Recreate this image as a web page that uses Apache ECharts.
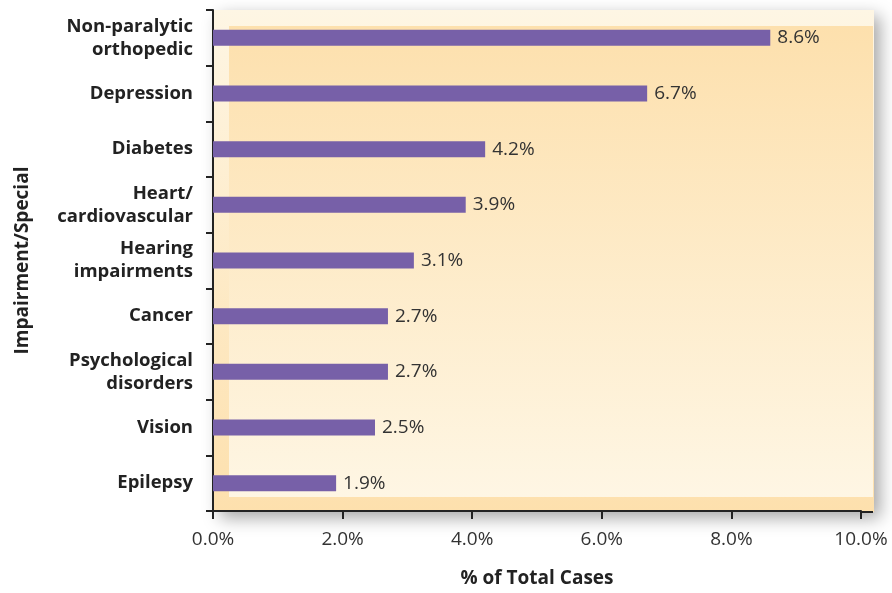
<!DOCTYPE html>
<html>
<head>
<meta charset="utf-8">
<script src="https://cdn.jsdelivr.net/npm/echarts@6/dist/echarts.min.js"></script>
<style>
  html, body { margin: 0; padding: 0; background: #fff; }
  #chart { width: 892px; height: 593px; }
</style>
</head>
<body>
<div id="chart"></div>
<script>
// categories top to bottom
const categories = [
  'Non-paralytic\northopedic',
  'Depression',
  'Diabetes',
  'Heart/\ncardiovascular',
  'Hearing\nimpairments',
  'Cancer',
  'Psychological\ndisorders',
  'Vision',
  'Epilepsy'
]
const values = [8.6, 6.7, 4.2, 3.9, 3.1, 2.7, 2.7, 2.5, 1.9]
const xTicks = [0, 2, 4, 6, 8, 10]

const FONT = 'Open Sans'
const G = { left: 213, top: 10, width: 648, height: 502 }
const CREAM = '#fef6e4'
const ORANGE = '#fde0ad'

const myChart = echarts.init(document.getElementById('chart'))

const option = {
  backgroundColor: '#fff',
  animation: false,
  textStyle: { fontFamily: FONT },
  grid: { left: G.left, top: G.top, width: G.width, height: G.height },
  graphic: [
    {
      type: 'rect',
      z: -10,
      silent: true,
      shape: { x: G.left + 1, y: G.top, width: G.width + 12, height: G.height },
      style: {
        fill: new echarts.graphic.LinearGradient(0, 0, 0, 1, [
          { offset: 0, color: CREAM },
          { offset: 1, color: ORANGE }
        ]),
        shadowBlur: 16,
        shadowOffsetX: 6,
        shadowOffsetY: 6,
        shadowColor: 'rgba(0,0,0,0.35)'
      }
    },
    {
      type: 'rect',
      z: -9,
      silent: true,
      shape: { x: G.left + 16, y: G.top + 16, width: G.width - 4, height: G.height - 31 },
      style: {
        fill: new echarts.graphic.LinearGradient(0, 0, 0, 1, [
          { offset: 0, color: ORANGE },
          { offset: 1, color: CREAM }
        ])
      }
    },
    {
      // the axis line runs on to the panel edge
      type: 'line',
      z: 5,
      silent: true,
      shape: { x1: G.left + G.width, y1: G.top + G.height, x2: G.left + G.width + 12, y2: G.top + G.height },
      style: { stroke: '#222', lineWidth: 2 }
    }
  ],
  xAxis: {
    type: 'value',
    min: xTicks[0],
    max: xTicks[xTicks.length - 1],
    interval: 2,
    name: '% of Total Cases',
    nameLocation: 'middle',
    nameGap: 58,
    nameTextStyle: { fontFamily: FONT, fontWeight: 'bold', fontSize: 19, color: '#222' },
    axisLine: { show: true, lineStyle: { color: '#222', width: 2 } },
    axisTick: { show: true, length: 8, lineStyle: { color: '#222', width: 2 } },
    axisLabel: {
      fontFamily: FONT,
      fontSize: 19,
      color: '#333',
      margin: 19,
      formatter: v => v.toFixed(1) + '%'
    },
    splitLine: { show: false }
  },
  yAxis: {
    type: 'category',
    data: categories,
    inverse: true,
    name: 'Impairment/Special',
    nameLocation: 'middle',
    nameGap: 181,
    nameRotate: 90,
    nameTextStyle: { fontFamily: FONT, fontWeight: 'bold', fontSize: 19, color: '#222' },
    axisLine: { show: true, lineStyle: { color: '#222', width: 2 } },
    axisTick: { show: true, length: 7, lineStyle: { color: '#222', width: 2 } },
    axisLabel: {
      fontFamily: FONT,
      fontWeight: 'bold',
      fontSize: 18.5,
      lineHeight: 23,
      color: '#222',
      margin: 20,
      align: 'right'
    }
  },
  series: [
    {
      type: 'bar',
      data: values,
      barWidth: 16,
      itemStyle: { color: '#7760a8' },
      label: {
        show: true,
        position: 'right',
        distance: 7,
        fontFamily: FONT,
        fontSize: 19,
        color: '#333',
        formatter: p => p.value.toFixed(1) + '%'
      }
    }
  ]
}

myChart.setOption(option)
window.addEventListener('resize', () => { myChart.resize() })
</script>
</body>
</html>
